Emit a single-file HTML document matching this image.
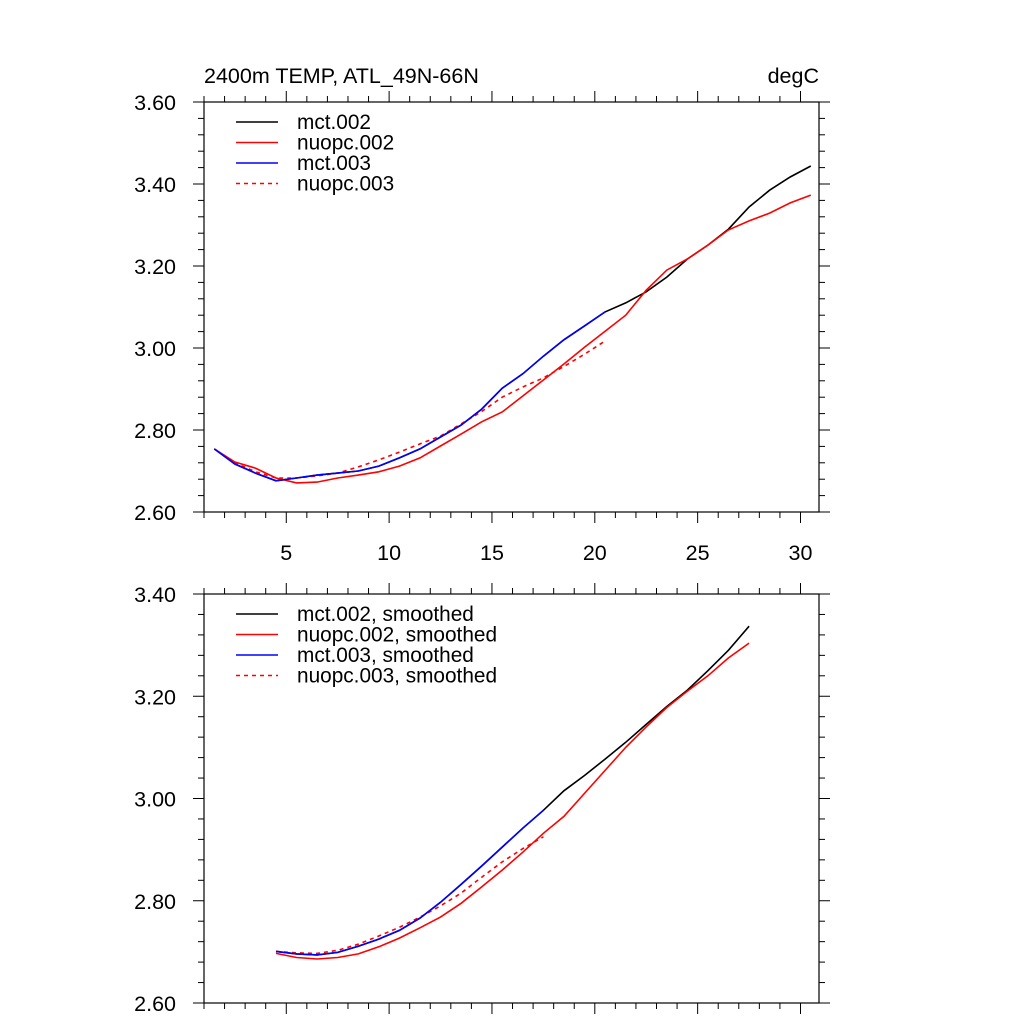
<!DOCTYPE html>
<html><head><meta charset="utf-8"><style>
body{margin:0;background:#fff}
text{font-family:"Liberation Sans",sans-serif;fill:#000}
</style></head><body>
<svg id="s" width="1024" height="1024" xmlns="http://www.w3.org/2000/svg">
<text x="204" y="83" font-size="21.5">2400m TEMP, ATL_49N-66N</text>
<text x="819" y="83" font-size="21.5" text-anchor="end">degC</text>
</svg>
<script>
const xTop=[1.5,2.5,3.5,4.5,5.5,6.5,7.5,8.5,9.5,10.5,11.5,12.5,13.5,14.5,15.5,16.5,17.5,18.5,19.5,20.5,21.5,22.5,23.5,24.5,25.5,26.5,27.5,28.5,29.5,30.5];
const mct002=[2.754,2.717,2.695,2.676,2.683,2.690,2.695,2.700,2.712,2.732,2.754,2.783,2.812,2.851,2.902,2.937,2.980,3.020,3.054,3.088,3.110,3.137,3.173,3.217,3.251,3.290,3.344,3.385,3.417,3.444];
const nuopc002=[2.754,2.722,2.707,2.683,2.671,2.673,2.683,2.690,2.698,2.712,2.732,2.761,2.790,2.820,2.844,2.883,2.922,2.961,3.002,3.041,3.080,3.141,3.190,3.217,3.251,3.288,3.310,3.329,3.354,3.373];
const mct003=[2.754,2.717,2.695,2.676,2.683,2.690,2.695,2.700,2.712,2.732,2.754,2.783,2.812,2.851,2.902,2.937,2.980,3.020,3.054,3.088];
const nuopc003=[2.754,2.720,2.698,2.683,2.683,2.688,2.695,2.710,2.727,2.746,2.766,2.785,2.815,2.845,2.880,2.905,2.927,2.955,2.985,3.017];
const xSm=[4.5,5.5,6.5,7.5,8.5,9.5,10.5,11.5,12.5,13.5,14.5,15.5,16.5,17.5,18.5,19.5,20.5,21.5,22.5,23.5,24.5,25.5,26.5,27.5];
const mct002s=[2.701,2.696,2.694,2.699,2.711,2.725,2.742,2.766,2.797,2.832,2.868,2.905,2.942,2.977,3.015,3.045,3.077,3.110,3.145,3.180,3.212,3.250,3.290,3.337];
const nuopc002s=[2.697,2.689,2.686,2.689,2.696,2.710,2.727,2.747,2.768,2.795,2.827,2.860,2.895,2.932,2.965,3.010,3.055,3.100,3.140,3.178,3.210,3.240,3.275,3.304];
const mct003s=[2.701,2.696,2.694,2.699,2.711,2.725,2.742,2.766,2.797,2.832,2.868,2.905,2.942,2.977];
const nuopc003s=[2.701,2.698,2.697,2.703,2.715,2.731,2.748,2.768,2.790,2.815,2.846,2.876,2.902,2.925];
const topTicks=["2.60","2.80","3.00","3.20","3.40","3.60"];
const botTicks=["2.60","2.80","3.00","3.20","3.40"];
const xTickLabels=["5","10","15","20","25","30"];

const NS="http://www.w3.org/2000/svg";
const svg=document.getElementById('s');
function mk(t,a,p){const e=document.createElementNS(NS,t);for(const k in a)e.setAttribute(k,a[k]);(p||svg).appendChild(e);return e;}
const L=204,R=819,X0=1,X1=30.9;
const sx=x=>L+(x-X0)*(R-L)/(X1-X0);

function panel(name,T,B,ymin,ymax,ticks,showX,series,legend){
  const g=mk('g',{});
  
  
  const sy=v=>B-(v-ymin)*(B-T)/(ymax-ymin);
  const fr=mk('rect',{x:L,y:T,width:R-L,height:B-T,fill:'none',stroke:'#000','stroke-width':1.2},g);
  
  
  for(let x=1;x<=30;x++){
    const maj=x%5===0,len=maj?11:6,px=sx(x);
    mk('line',{x1:px,x2:px,y1:B,y2:B+len,stroke:'#000'},g);
    mk('line',{x1:px,x2:px,y1:T,y2:T-len,stroke:'#000'},g);
  }
  if(showX){xTickLabels.forEach(l=>{const t=mk('text',{x:sx(+l),y:B+48,'font-size':21.5,'text-anchor':'middle'},g);t.textContent=l;
    
    });}
  for(let v=ymin;v<=ymax+1e-9;v+=0.04){
    const maj=Math.abs((v-ymin)/0.2-Math.round((v-ymin)/0.2))<1e-6,len=maj?11:6,py=sy(v);
    mk('line',{x1:L,x2:L-len,y1:py,y2:py,stroke:'#000'},g);
    mk('line',{x1:R,x2:R+len,y1:py,y2:py,stroke:'#000'},g);
  }
  ticks.forEach(l=>{const t=mk('text',{x:L-28,y:sy(+l)+8,'font-size':21.5,'text-anchor':'end'},g);t.textContent=l;
    
    });
  series.forEach(s=>{
    const d=s.y.map((v,i)=>(i?'L':'M')+sx(s.x[i]).toFixed(1)+','+sy(v).toFixed(1)).join('');
    const p=mk('path',{d:d,fill:'none',stroke:s.c,'stroke-width':1.6,'stroke-dasharray':s.dash?'4,4':'none'},g);
    
    
  });
  legend.forEach((s,i)=>{
    const y=T+20+i*20.5;
    const lg=mk('g',{},g);
    
    
    mk('line',{x1:236,x2:278,y1:y,y2:y,stroke:s.c,'stroke-width':1.4,'stroke-dasharray':s.dash?'4,4':'none'},lg);
    const t=mk('text',{x:297,y:y+7,'font-size':20.8},lg);t.textContent=s.n;
  });
}
const topSeries=[
 {x:xTop,y:mct002,c:'#000',n:'mct.002'},
 {x:xTop,y:nuopc002,c:'#f00',n:'nuopc.002'},
 {x:xTop,y:mct003,c:'#00f',n:'mct.003'},
 {x:xTop,y:nuopc003,c:'#f00',n:'nuopc.003',dash:1}];
panel('top-panel',102,512,2.6,3.6,topTicks,true,[topSeries[0],topSeries[1],topSeries[3],topSeries[2]],topSeries);
const botSeries=[
 {x:xSm,y:mct002s,c:'#000',n:'mct.002, smoothed'},
 {x:xSm,y:nuopc002s,c:'#f00',n:'nuopc.002, smoothed'},
 {x:xSm,y:mct003s,c:'#00f',n:'mct.003, smoothed'},
 {x:xSm,y:nuopc003s,c:'#f00',n:'nuopc.003, smoothed',dash:1}];
panel('bottom-panel',594,1003,2.6,3.4,botTicks,false,[botSeries[0],botSeries[1],botSeries[3],botSeries[2]],botSeries);
</script>
</body></html>
